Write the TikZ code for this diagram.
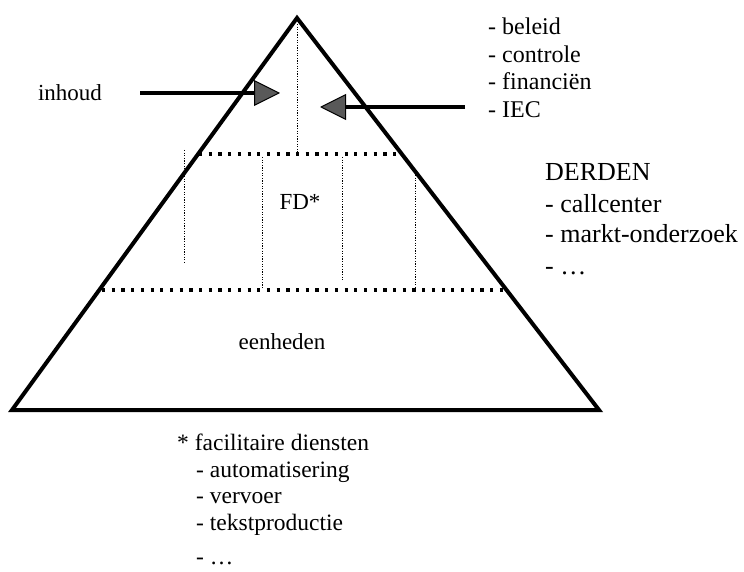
\documentclass[tikz,border=0pt]{standalone}
\usepackage{fontspec}
\setmainfont{Liberation Serif}
\usetikzlibrary{arrows.meta}
\begin{document}
\begin{tikzpicture}[x=1pt,y=-1pt,
  lbl/.style={inner sep=0pt, font=\fontsize{23}{27.5}\selectfont},
  lbltop/.style={inner sep=0pt, font=\fontsize{24}{27.5}\selectfont},
  lblbot/.style={inner sep=0pt, font=\fontsize{23.5}{27.5}\selectfont},
  lblbig/.style={inner sep=0pt, font=\fontsize{26}{30}\selectfont},
  side/.style={line width=4pt, line join=miter, line cap=round},
  hdots/.style={line width=3.2pt, dash pattern=on 3.2pt off 6.5pt},
  vdots/.style={line width=1pt, dash pattern=on 1.2pt off 1.4pt},
  bigarrow/.style={line width=4pt, -{Triangle[length=26pt,width=26pt,fill=black!65,line width=1pt]}}
]
\useasboundingbox (0,0) rectangle (744,572);
% pyramid
\coordinate (apex) at (297,18);
\coordinate (bl) at (12,410);
\coordinate (br) at (599,410);
\draw[side] (bl) -- (apex) -- (br) -- cycle;
% horizontal dotted lines
\coordinate (t1) at (199,154);
\coordinate (t2) at (397,154);
\coordinate (b1) at (102,290);
\coordinate (b2) at (504,290);
\draw[hdots] (t1) -- (t2);
\draw[hdots] (b1) -- (b2);
% vertical dotted lines
\coordinate (v0a) at (297,24);  \coordinate (v0b) at (297,152);
\coordinate (v1a) at (184,150); \coordinate (v1b) at (184,263);
\coordinate (v2a) at (262,157); \coordinate (v2b) at (262,289);
\coordinate (v3a) at (342,157); \coordinate (v3b) at (342,280);
\coordinate (v4a) at (415,175); \coordinate (v4b) at (415,288);
\draw[vdots] (v0a) -- (v0b);
\draw[vdots] (v1a) -- (v1b);
\draw[vdots] (v2a) -- (v2b);
\draw[vdots] (v3a) -- (v3b);
\draw[vdots] (v4a) -- (v4b);
% arrows
\coordinate (la) at (140,93);
\coordinate (lt) at (280,93);
\coordinate (ra) at (465,107);
\coordinate (rt) at (320,107);
\draw[bigarrow] (la) -- (lt);
\draw[bigarrow] (ra) -- (rt);
% labels
\node[lbl] (inhoud) at (70,93) {inhoud};
\node[lbltop, anchor=base west] (beleid) at (488,35) {- beleid};
\node[lbltop, anchor=base west] (controle) at (488,62.5) {- controle};
\node[lbltop, anchor=base west] (fin) at (488,90) {- financiën};
\node[lbltop, anchor=base west] (iec) at (488,117.5) {- IEC};
\node[lbl] (fd) at (300,202) {FD*};
\node[lbl] (eenheden) at (282,342) {eenheden};
\node[lblbig, anchor=base west] (derden) at (545,181) {DERDEN};
\node[lblbig, anchor=base west] (call) at (545,212) {- callcenter};
\node[lblbig, anchor=base west] (markt) at (545,243) {- markt-onderzoek};
\node[lblbig, anchor=base west] (dd1) at (545,274) {- \dots};
\node[lblbot, anchor=base west] (fac) at (177,450) {* facilitaire diensten};
\node[lblbot, anchor=base west] (auto) at (196,477) {- automatisering};
\node[lblbot, anchor=base west] (verv) at (196,503.5) {- vervoer};
\node[lblbot, anchor=base west] (tekst) at (196,530) {- tekstproductie};
\node[lblbot, anchor=base west] (dd2) at (196,564) {- \dots};
\end{tikzpicture}
\end{document}
